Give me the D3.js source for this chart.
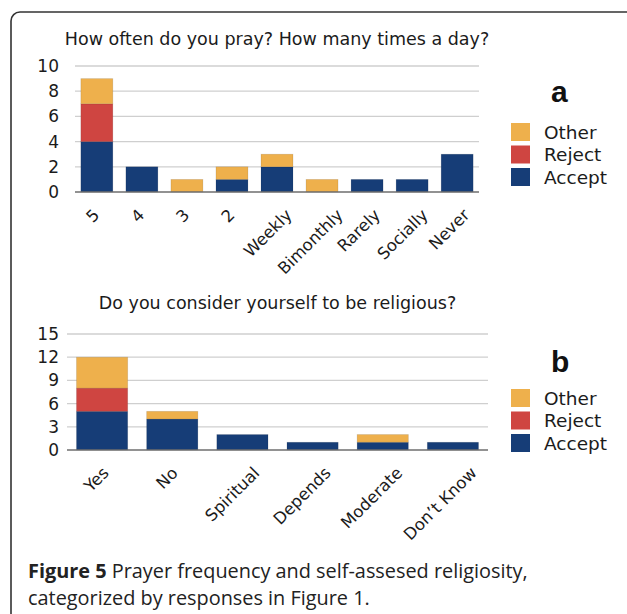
<!DOCTYPE html>
<html><head><meta charset="utf-8">
<script src="https://cdn.jsdelivr.net/npm/d3@7"></script>
<style>
html,body{margin:0;padding:0;background:#fff;}
svg{display:block;}
</style></head>
<body>
<svg id="fig" width="627" height="614"></svg>
<script>
// ---- data ----
const catsA = ["5","4","3","2","Weekly","Bimonthly","Rarely","Socially","Never"];
const acceptA = [4,2,0,1,2,0,1,1,3];
const rejectA = [3,0,0,0,0,0,0,0,0];
const otherA  = [2,0,1,1,1,1,0,0,0];
const ticksA  = [0,2,4,6,8,10];

const catsB = ["Yes","No","Spiritual","Depends","Moderate","Don\u2019t Know"];
const acceptB = [5,4,2,1,1,1];
const rejectB = [3,0,0,0,0,0];
const otherB  = [4,1,0,0,1,0];
const ticksB  = [0,3,6,9,12,15];

const seriesNames = ["Accept","Reject","Other"];
const legendOrder = ["Other","Reject","Accept"];
const titleA = "How often do you pray? How many times a day?";
const titleB = "Do you consider yourself to be religious?";
const captionBold = "Figure 5";
const captionRest1 = " Prayer frequency and self-assesed religiosity,";
const captionLine2 = "categorized by responses in Figure 1.";

const colors = {Accept:"#163d77", Reject:"#cf4541", Other:"#eeb04c"};
const font = "'DejaVu Sans', Verdana, sans-serif";
const ink = "#1b1b1b";

const svg = d3.select("#fig");

// frame
svg.append("path")
  .attr("d","M11,616 L11,21 A9,9 0 0 1 20,12 L640,12")
  .attr("fill","none").attr("stroke","#333").attr("stroke-width",1.6);

function drawChart(opt){
  const g = svg.append("g");
  const rows = opt.cats.map((c,i)=>({cat:c, Accept:opt.accept[i], Reject:opt.reject[i], Other:opt.other[i]}));
  const x = d3.scaleBand().domain(opt.cats).range(opt.xr).paddingInner(opt.pin).paddingOuter(opt.pout);
  const y = d3.scaleLinear().domain([0, d3.max(opt.ticks)]).range(opt.yr);

  // gridlines
  g.selectAll("line.grid").data(opt.ticks.filter(t=>t>0)).join("line")
    .attr("x1",opt.xr[0]).attr("x2",opt.xr[1])
    .attr("y1",d=>y(d)).attr("y2",d=>y(d))
    .attr("stroke","#cfcfcf").attr("stroke-width",1.3);

  // y tick labels
  const yAxis = d3.axisLeft(y).tickValues(opt.ticks).tickSize(0).tickPadding(0);
  const ya = g.append("g").attr("transform",`translate(${opt.labelX},0)`).call(yAxis);
  ya.select(".domain").remove();
  ya.selectAll("text").attr("font-family",font).attr("font-size",17).attr("fill",ink);

  // bars
  const stack = d3.stack().keys(seriesNames)(rows);
  g.selectAll("g.series").data(stack).join("g")
    .attr("fill",d=>colors[d.key])
    .selectAll("rect").data(d=>d.filter(s=>s[1]-s[0]>0)).join("rect")
    .attr("x",d=>x(d.data.cat)).attr("width",x.bandwidth())
    .attr("y",d=>y(d[1])).attr("height",d=>y(d[0])-y(d[1]))
    .attr("stroke","rgba(0,0,0,0.12)").attr("stroke-width",0.8);

  // baseline axis
  g.append("line").attr("x1",opt.xr[0]).attr("x2",opt.xr[1])
    .attr("y1",y(0)).attr("y2",y(0)).attr("stroke","#6e6e6e").attr("stroke-width",1.4);

  // x labels rotated
  const xl = g.selectAll("text.xl").data(opt.cats).join("text")
    .attr("font-family",font).attr("font-size",16.5).attr("fill",ink)
    .attr("text-anchor","end").text(d=>d);
  xl.each(function(d){
    const L = this.getComputedTextLength();
    const ax = x(d) + x.bandwidth()/2 + 1 + 0.25*L;
    const ay = y(0) + 24;
    d3.select(this).attr("transform",`translate(${ax},${ay}) rotate(-45)`);
  });

  // title
  g.append("text").attr("x",(opt.xr[0]+opt.xr[1])/2).attr("y",opt.titleY)
    .attr("text-anchor","middle").attr("font-family",font).attr("font-size",17.5)
    .attr("fill",ink).text(opt.title);

  // panel letter
  g.append("text").attr("x",551).attr("y",opt.letterY)
    .attr("font-family","'Liberation Sans', Arial, sans-serif").attr("font-weight","bold")
    .attr("font-size",30).attr("fill","#111").text(opt.letter);

  // legend
  const lg = g.selectAll("g.leg").data(legendOrder).join("g")
    .attr("transform",(d,i)=>`translate(511,${opt.legY + i*22.5})`);
  lg.append("rect").attr("width",19).attr("height",18).attr("fill",d=>colors[d]);
  lg.append("text").attr("x",33).attr("y",9).attr("dy","0.36em")
    .attr("font-family",font).attr("font-size",18.5).attr("fill",ink).text(d=>d);
}

drawChart({cats:catsA, accept:acceptA, reject:rejectA, other:otherA, ticks:ticksA,
  xr:[75,479], yr:[192,66], pin:0.29, pout:0.13, labelX:59, title:titleA, titleY:45,
  letter:"a", letterY:102, legY:123});
drawChart({cats:catsB, accept:acceptB, reject:rejectB, other:otherB, ticks:ticksB,
  xr:[67,488], yr:[450,334], pin:0.27, pout:0.135, labelX:59, title:titleB, titleY:309,
  letter:"b", letterY:372, legY:389});

// caption
const capFont = "'Open Sans', 'Noto Sans', sans-serif";
const cap1 = svg.append("text").attr("x",28).attr("y",578)
  .attr("font-family",capFont).attr("font-size",18).attr("fill","#222");
cap1.append("tspan").attr("font-weight","bold").text(captionBold);
cap1.append("tspan").text(captionRest1);
const cap2 = svg.append("text").attr("x",28).attr("y",605)
  .attr("font-family",capFont).attr("font-size",18).attr("fill","#222").text(captionLine2);
const w = cap1.node().getComputedTextLength();
const fs = 18 * 500 / w;
cap1.attr("font-size",fs); cap2.attr("font-size",fs);
</script>
</body></html>
